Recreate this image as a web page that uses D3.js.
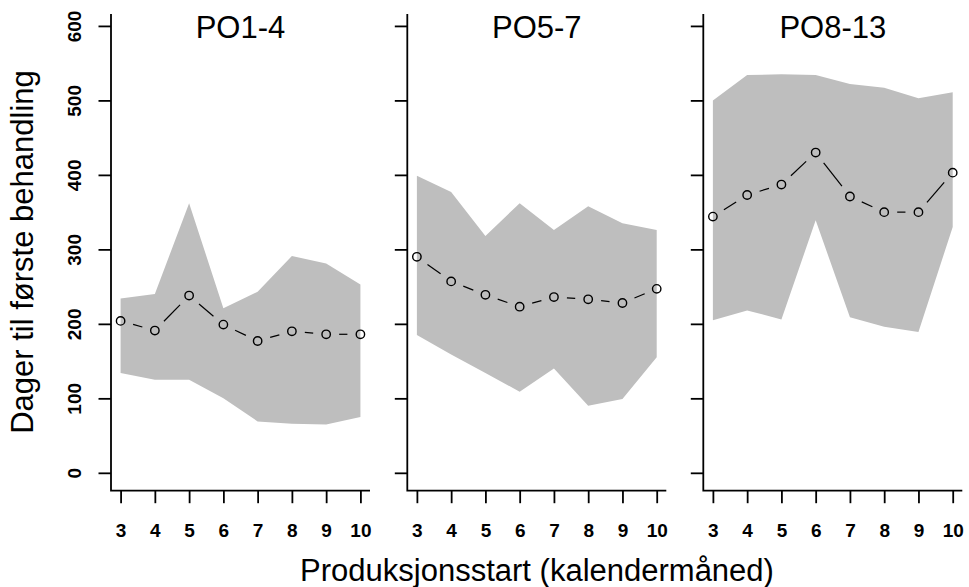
<!DOCTYPE html>
<html>
<head>
<meta charset="utf-8">
<script src="https://cdn.jsdelivr.net/npm/d3@7"></script>
<style>
  body { margin: 0; background: #fff; }
  svg { display: block; font-family: Arial, "Liberation Sans", sans-serif; }
</style>
</head>
<body>
<svg id="chart" width="969" height="587"></svg>
<script>
//_________________ Data
const months = [3, 4, 5, 6, 7, 8, 9, 10];
const panelNames = ["PO1-4", "PO5-7", "PO8-13"];
const yTicks = [0, 100, 200, 300, 400, 500, 600];

// median days and the shaded interval, per production area group
const po14Median = [204, 191, 238, 199, 177, 190, 186, 186];
const po14Lower  = [134, 125, 125, 100, 69, 66, 65, 75];
const po14Upper  = [234, 240, 362, 221, 243, 291, 281, 253];

const po57Median = [290, 257, 239, 223, 236, 233, 228, 247];
const po57Lower  = [185, 159, 134, 109, 140, 90, 99, 155];
const po57Upper  = [399, 377, 318, 362, 326, 358, 335, 326];

const po813Median = [344, 373, 387, 430, 371, 350, 350, 403];
const po813Lower  = [205, 218, 206, 339, 209, 196, 189, 330];
const po813Upper  = [500, 534, 535, 534, 522, 517, 503, 511];

const panels = [
  { name: panelNames[0], median: po14Median, lower: po14Lower, upper: po14Upper },
  { name: panelNames[1], median: po57Median, lower: po57Lower, upper: po57Upper },
  { name: panelNames[2], median: po813Median, lower: po813Lower, upper: po813Upper }
];

//_________________ Layout
const svg = d3.select("#chart");
const plotTop = 14, plotBottom = 490.7;
const panelLeft = [111, 407.3, 703.3];
const panelWidth = 259;
const tickLen = 12.5;
const gap = 13; // gap between circle and line (type = "b")

const y = d3.scaleLinear().domain([-24, 616]).range([plotBottom, plotTop]);

panels.forEach((p, i) => {
  const left = panelLeft[i];
  const x = d3.scaleLinear().domain([2.72, 10.28]).range([left, left + panelWidth]);
  const g = svg.append("g");

  const rows = months.map((m, k) => ({ m: m, med: p.median[k], lo: p.lower[k], hi: p.upper[k] }));

  // shaded band
  const area = d3.area()
    .x(d => x(d.m))
    .y0(d => y(d.lo))
    .y1(d => y(d.hi));
  g.append("path")
    .datum(rows)
    .attr("d", area)
    .attr("fill", "#bebebe");

  // line segments with gaps
  for (let k = 0; k < rows.length - 1; k++) {
    const x1 = x(rows[k].m), y1 = y(rows[k].med);
    const x2 = x(rows[k + 1].m), y2 = y(rows[k + 1].med);
    const len = Math.hypot(x2 - x1, y2 - y1);
    if (len <= 2 * gap) continue;
    const ux = (x2 - x1) / len, uy = (y2 - y1) / len;
    g.append("line")
      .attr("x1", x1 + ux * gap).attr("y1", y1 + uy * gap)
      .attr("x2", x2 - ux * gap).attr("y2", y2 - uy * gap)
      .attr("stroke", "#000")
      .attr("stroke-width", 1.2);
  }

  g.selectAll("circle.pt")
    .data(rows)
    .enter().append("circle")
    .attr("class", "pt")
    .attr("cx", d => x(d.m))
    .attr("cy", d => y(d.med))
    .attr("r", 4.2)
    .attr("fill", "none")
    .attr("stroke", "#000")
    .attr("stroke-width", 1.4);

  // L-shaped box
  g.append("path")
    .attr("d", `M${left},${plotTop}V${plotBottom}H${left + panelWidth}`)
    .attr("fill", "none")
    .attr("stroke", "#000")
    .attr("stroke-width", 1.8);

  // x axis
  const xAxis = g.append("g")
    .attr("transform", `translate(0,${plotBottom})`)
    .call(d3.axisBottom(x).tickValues(months).tickSize(tickLen).tickFormat(d3.format("d")));
  xAxis.select(".domain").remove();
  xAxis.selectAll("line").attr("stroke-width", 1.8);
  xAxis.selectAll("text")
    .attr("y", 46.8)
    .attr("dy", null)
    .attr("font-size", 19)
    .attr("font-weight", "bold")
    .attr("font-family", "Arial, 'Liberation Sans', sans-serif")
    .attr("fill", "#000");

  // y axis
  const yAxis = g.append("g")
    .attr("transform", `translate(${left},0)`)
    .call(d3.axisLeft(y).tickValues(yTicks).tickSize(tickLen));
  yAxis.select(".domain").remove();
  yAxis.selectAll("line").attr("stroke-width", 1.8);
  if (i === 0) {
    yAxis.selectAll("text")
      .attr("transform", "rotate(-90)")
      .attr("x", 0)
      .attr("y", -30)
      .attr("dy", null)
      .attr("text-anchor", "middle")
      .attr("font-size", 19)
      .attr("font-weight", "bold")
      .attr("font-family", "Arial, 'Liberation Sans', sans-serif")
      .attr("fill", "#000");
  } else {
    yAxis.selectAll("text").remove();
  }

  // panel title
  svg.append("text")
    .attr("x", left + panelWidth / 2)
    .attr("y", 38)
    .attr("text-anchor", "middle")
    .attr("font-size", 31)
    .text(p.name);
});

//_________________ Axis titles
svg.append("text")
  .attr("transform", `translate(33,252) rotate(-90)`)
  .attr("text-anchor", "middle")
  .attr("font-size", 31)
  .text("Dager til første behandling");

svg.append("text")
  .attr("x", 537)
  .attr("y", 581)
  .attr("text-anchor", "middle")
  .attr("font-size", 31)
  .text("Produksjonsstart (kalendermåned)");
</script>
</body>
</html>
